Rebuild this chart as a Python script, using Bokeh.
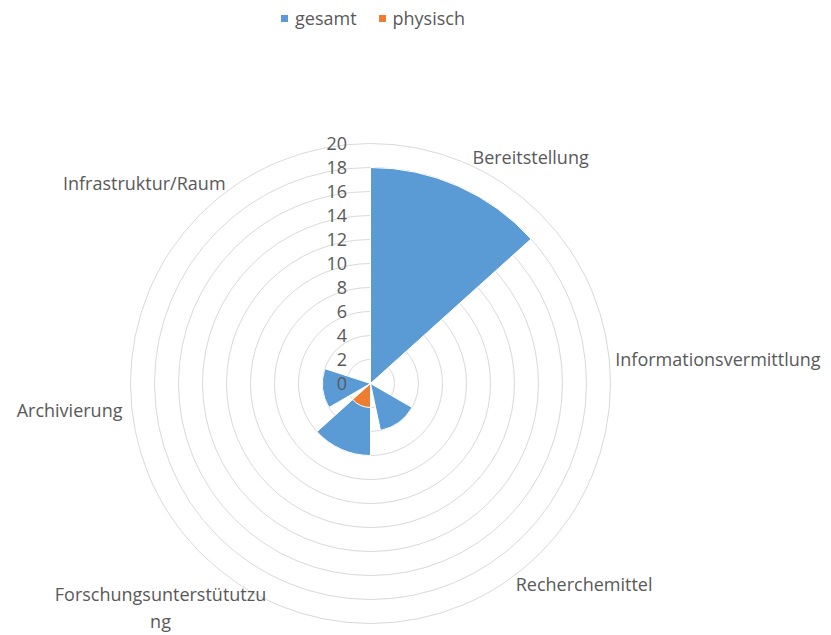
import math
from bokeh.plotting import figure
from bokeh.models import ColumnDataSource, Range1d, Legend, LegendItem
from bokeh.core.properties import value
from bokeh.embed import file_html
from bokeh.resources import INLINE

# ---- data ----
categories = ["Bereitstellung", "Informationsvermittlung", "Recherchemittel",
              "Forschungsunterstütutzung", "Archivierung", "Infrastruktur/Raum"]
gesamt = [18, 0, 4, 6, 4, 0]
physisch = [0, 0, 0, 2, 0, 0]
radial_ticks = [0, 2, 4, 6, 8, 10, 12, 14, 16, 18, 20]

# ---- layout / style ----
FONT = "Open Sans"
TXT = "#595959"
GRID = "#d9d9d9"
BLUE = "#5B9BD5"
ORANGE = "#ED7D31"
SECTOR = 360.0 / len(categories)
FILL_FRAC = 0.8
# category label anchors (data units) and alignment
label_x = [8.5, 20.4, 12.1, -17.5, -20.67, -12.08]
label_y = [18.9, 2.08, -16.67, -18.65, -2.17, 16.67]
label_align = ["left", "left", "left", "center", "right", "right"]
label_text = ["Bereitstellung", "Informationsvermittlung", "Recherchemittel",
              "Forschungsunterstütutzu\nng", "Archivierung", "Infrastruktur/Raum"]

W, H = 831, 635
CX, CY = 370, 383      # centre in figure pixels
PX = 12.0              # pixels per unit

p = figure(width=W, height=H, output_backend="svg", toolbar_location=None,
           x_axis_location=None, y_axis_location=None, min_border=0,
           x_range=Range1d(-CX / PX, (W - CX) / PX),
           y_range=Range1d(-(H - CY) / PX, CY / PX))
p.grid.visible = False
p.outline_line_color = None
p.background_fill_color = "white"

# grid circles
p.circle(x=[0] * (len(radial_ticks) - 1), y=[0] * (len(radial_ticks) - 1),
         radius=radial_ticks[1:], fill_color=None, line_color=GRID, line_width=1)

def wedge_src(vals):
    starts, ends = [], []
    for i, v in enumerate(vals):
        a0 = i * SECTOR
        a1 = a0 + SECTOR * FILL_FRAC
        # compass (clockwise from north) -> math angles
        starts.append(math.radians(90 - a1))
        ends.append(math.radians(90 - a0))
    return ColumnDataSource(dict(x=[0] * len(vals), y=[0] * len(vals),
                                 r=list(vals), s=starts, e=ends, cat=categories))

rg = p.wedge(x="x", y="y", radius="r", start_angle="s", end_angle="e",
             source=wedge_src(gesamt), fill_color=BLUE, line_color="white",
             line_width=1)
ro = p.wedge(x="x", y="y", radius="r", start_angle="s", end_angle="e",
             source=wedge_src(physisch), fill_color=ORANGE, line_color="white",
             line_width=1)

# radial tick labels
p.text(x=[-1.95] * len(radial_ticks), y=radial_ticks,
       text=[str(t) for t in radial_ticks], text_align="right",
       text_baseline="middle", text_font=value(FONT), text_font_size="18px",
       text_color=TXT)

# category labels
p.text(x="x", y="y", text="t", text_align="a",
       source=ColumnDataSource(dict(x=label_x, y=label_y, t=label_text, a=label_align)),
       text_baseline="middle", text_font=value(FONT), text_font_size="18px",
       text_color=TXT, text_line_height=1.12)

legend = Legend(items=[LegendItem(label="gesamt", renderers=[rg]),
                       LegendItem(label="physisch", renderers=[ro])],
                orientation="horizontal", location=(279, H - 30),
                padding=0, margin=0, spacing=20, glyph_width=10,
                glyph_height=10, label_standoff=6, label_height=20,
                label_text_font=FONT, label_text_font_size="18px",
                label_text_color=TXT,
                border_line_color=None, background_fill_alpha=0)
p.add_layout(legend, "center")

open("out.html", "w").write(file_html(p, INLINE))
